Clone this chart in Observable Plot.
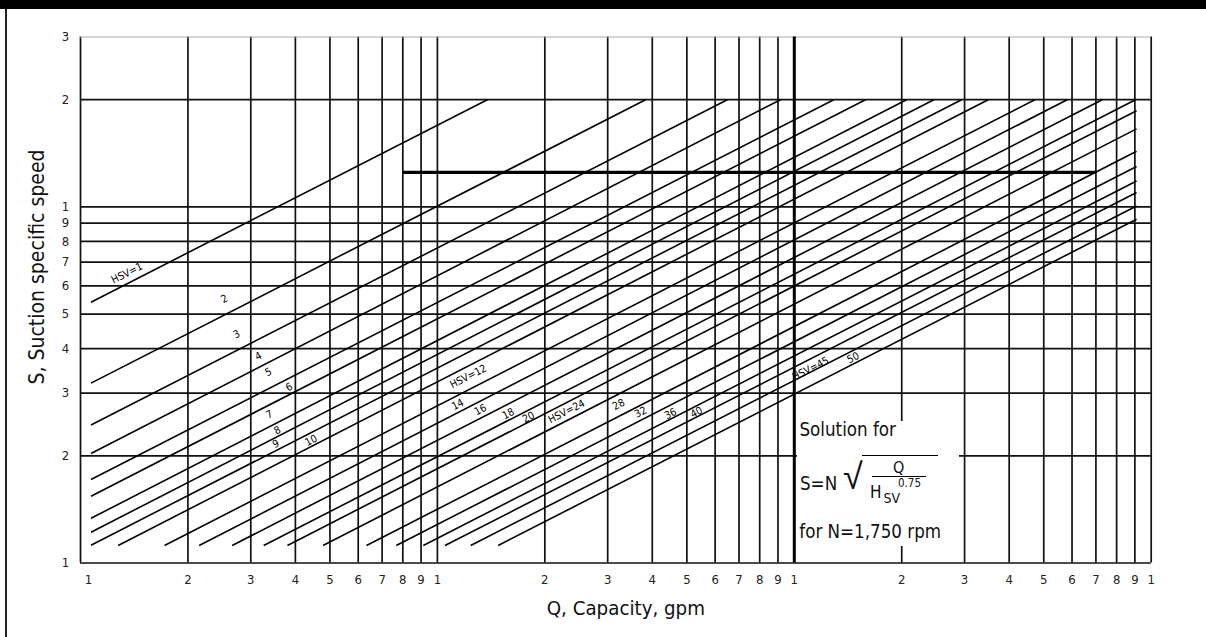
<!DOCTYPE html>
<html><head><meta charset="utf-8">
<script src="https://cdn.jsdelivr.net/npm/d3@7"></script>
<script src="https://cdn.jsdelivr.net/npm/@observablehq/plot@0.6"></script>
<style>
html,body{margin:0;padding:0;background:#fff;}
body{width:1206px;height:637px;overflow:hidden;position:relative;font-family:"DejaVu Sans Condensed","DejaVu Sans",sans-serif;font-stretch:condensed;}
#topbar{position:absolute;left:0;top:0;width:1206px;height:9px;background:#000;}
#leftbar{position:absolute;left:5px;top:9px;width:2px;height:628px;background:#222;}
#chart{position:absolute;left:0;top:0;}
#note{position:absolute;left:797px;top:421px;width:162px;height:125px;background:#fff;z-index:5;color:#111;}
#note span,#note div{position:absolute;line-height:1;white-space:nowrap;}
</style></head>
<body>
<div id="chart"></div>
<div id="topbar"></div>
<div id="leftbar"></div>
<div id="note">
  <span style="left:2.5px;top:-0.5px;font-size:18.6px;">Solution for</span>
  <span style="left:3px;top:53.5px;font-size:18.6px;">S=N</span>
  <span style="left:46px;top:37.5px;font-size:36px;font-family:'Liberation Sans',sans-serif;">√</span>
  <div style="left:65px;top:34px;width:76px;height:0;border-top:1.5px solid #000;"></div>
  <div style="left:74.7px;top:38.5px;width:54px;text-align:center;font-size:16px;">Q</div>
  <div style="left:74.7px;top:55px;width:54px;height:1.3px;background:#000;"></div>
  <span style="left:73px;top:62.5px;font-size:17px;">H</span>
  <span style="left:86.5px;top:70px;font-size:14px;">SV</span>
  <span style="left:101px;top:57px;font-size:11.5px;">0.75</span>
  <span style="left:2.3px;top:101.8px;font-size:18.6px;">for N=1,750 rpm</span>
</div>
<script>
// Grid values (Q in gpm, S suction specific speed)
const qGrid = [10,20,30,40,50,60,70,80,90,100,200,300,400,500,600,700,800,900,1000,2000,3000,4000,5000,6000,7000,8000,9000,10000];
const qTickLabels = ["1","2","3","4","5","6","7","8","9","1","2","3","4","5","6","7","8","9","1","2","3","4","5","6","7","8","9","1"];
const sGrid = [1000,2000,3000,4000,5000,6000,7000,8000,9000,10000,20000,30000];
const sTickLabels = ["1","2","3","4","5","6","7","8","9","1","2","3"];

// HSV lines: start and end points
const hsv    = [1,2,3,4,5,6,7,8,9,10,12,14,16,18,20,24,28,32,36,40,45,50];
const qStart = [10.7,10.7,10.7,10.7,10.7,10.7,10.7,10.7,10.7,12.75,17.2,21.5,26.6,32.6,38,47.8,63.3,76.7,91.3,105,124,148];
const sStart = [5400,3200,2440,2030,1715,1540,1335,1220,1122,1120,1120,1120,1120,1120,1120,1120,1120,1120,1120,1120,1120,1120];
const qEnd   = [138,383,649,915,1290,1583,2063,2460,2942,3494,4720,5816,7290,9036,9100,9100,9100,9100,9100,9100,9100,9100];
const sEnd   = [20000,20000,20000,20000,20000,20000,20000,20000,20000,20000,20000,20000,20000,20000,18630,16560,14330,12990,11820,10975,10060,9236];

// Line labels and their anchor points
const lineLabels = ["HSV=1","2","3","4","5","6","7","8","9","10","HSV=12","14","16","18","20","HSV=24","28","32","36","40","HSV=45","50"];
const labelQ = [13.5,25.3,27.4,31.5,33.6,38.4,33.8,35.6,35.3,44.3,122,114,132,158,180,230,322,371,450,532,1110,1462];
const labelS = [6513,5520,4382,3808,3434,3117,2608,2356,2161,2208,3340,2787,2693,2624,2567,2664,2787,2652,2624,2652,3511,3770];

// Example solution lines (heavy)
const exampleS = 12500, exampleQ0 = 80, exampleQ1 = 7000;
const exampleQ = 1000;

const xTitle = "Q, Capacity, gpm";
const yTitle = "S, Suction specific speed";

const lines = hsv.map((h, i) => ({h, q0: qStart[i], s0: sStart[i], q1: qEnd[i], s1: sEnd[i]}));
const labels = lineLabels.map((t, i) => ({t, q: labelQ[i], s: labelS[i]}));
const xTicks = qGrid.map((q, i) => ({q, t: qTickLabels[i]}));
const yTicks = sGrid.map((s, i) => ({s, t: sTickLabels[i]}));
const font = "'DejaVu Sans Condensed','DejaVu Sans',sans-serif";

const chart = Plot.plot({
  width: 1206,
  height: 637,
  marginLeft: 80,
  marginRight: 55.3,
  marginTop: 36.5,
  marginBottom: 74.5,
  style: {fontFamily: font, background: "transparent", color: "#000"},
  x: {type: "log", domain: [10, 10000], axis: null},
  y: {type: "log", domain: [1000, 30000], axis: null},
  marks: [
    Plot.ruleX(qGrid.filter(q => q !== exampleQ), {stroke: "#111", strokeWidth: 1.7}),
    Plot.ruleY(sGrid.filter(s => s !== 30000), {stroke: "#111", strokeWidth: 1.7}),
    Plot.ruleY(sGrid.filter(s => s === 30000), {stroke: "#aaa", strokeWidth: 1.2}),
    Plot.link(lines, {x1: "q0", y1: "s0", x2: "q1", y2: "s1", stroke: "#000", strokeWidth: 1.6}),
    Plot.ruleY([exampleS], {x1: exampleQ0, x2: exampleQ1, stroke: "#000", strokeWidth: 3.2}),
    Plot.ruleX([exampleQ], {stroke: "#000", strokeWidth: 3}),
    Plot.text(labels, {x: "q", y: "s", text: "t", rotate: -27, fontSize: 10.5, fill: "#000"}),
    Plot.text(xTicks.slice(1), {x: "q", text: "t", frameAnchor: "bottom", dy: 20.5, fontSize: 13, fill: "#222"}),
    Plot.text(xTicks.slice(0, 1), {x: "q", text: "t", frameAnchor: "bottom", dx: 8, dy: 20.5, fontSize: 13, fill: "#222"}),
    Plot.text(yTicks, {y: "s", text: "t", frameAnchor: "left", textAnchor: "middle", dx: -15, fontSize: 13, fill: "#222"}),
    Plot.text([xTitle], {frameAnchor: "bottom", textAnchor: "middle", dx: 10, dy: 51.5, fontSize: 20.3, fill: "#111"}),
    Plot.text([yTitle], {frameAnchor: "left", textAnchor: "middle", dx: -43, dy: -33, rotate: -90, fontSize: 21, fill: "#111"})
  ]
});
document.getElementById("chart").appendChild(chart);
</script>
</body></html>
